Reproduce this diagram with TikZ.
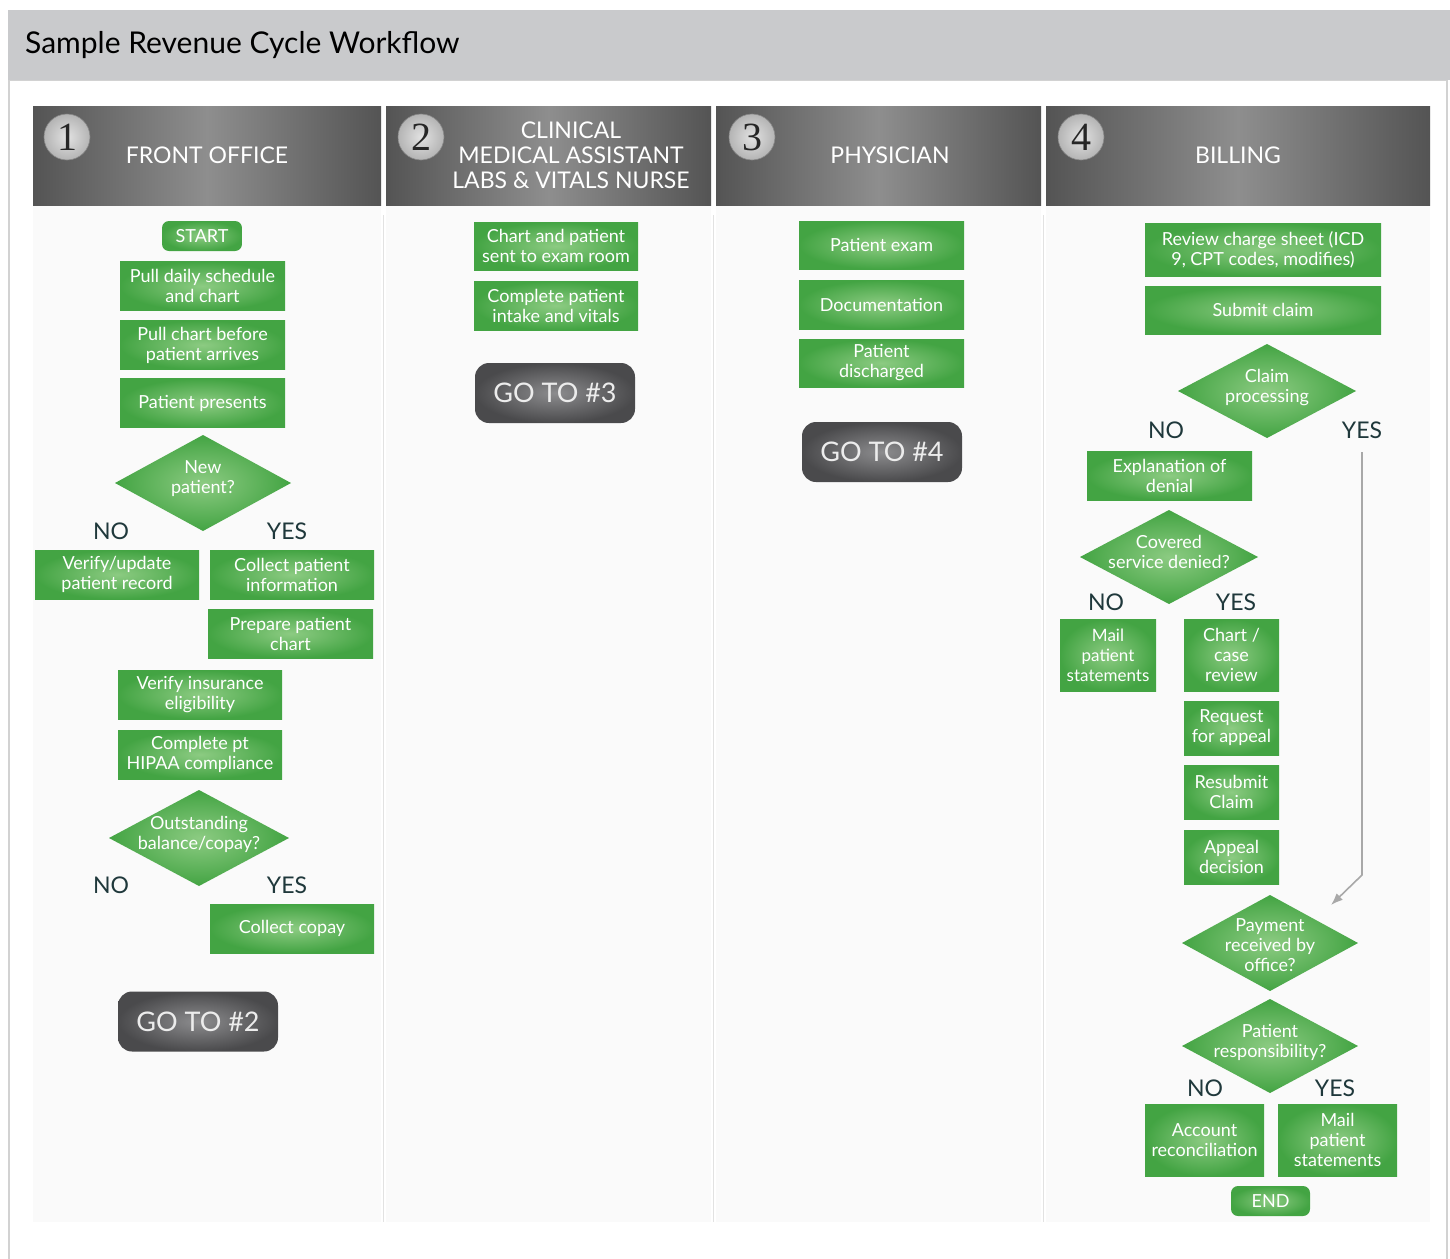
\documentclass[tikz,border=0pt]{standalone}
\usepackage{fontspec}
\setmainfont{Lato}
\newfontfamily\numfont{Liberation Serif}
\usetikzlibrary{arrows.meta}
\definecolor{titlebar}{HTML}{C9CACC}
\definecolor{framec}{HTML}{D2D2D2}
\definecolor{colbg}{HTML}{FAFAFA}
\definecolor{sepc}{HTML}{E2E2E2}
\definecolor{hdrdark}{HTML}{545454}
\definecolor{hdrlight}{HTML}{8E8E8E}
\definecolor{gin}{HTML}{8CCB82}
\definecolor{gout}{HTML}{43A443}
\definecolor{gotoin}{HTML}{8C8C8E}
\definecolor{gotoout}{HTML}{4A4A4C}
\definecolor{gototext}{HTML}{ECECEC}
\definecolor{yn}{HTML}{1F383B}
\definecolor{numin}{HTML}{E2E2E2}
\definecolor{numout}{HTML}{B4B4B4}
\definecolor{arrc}{HTML}{A8A8A8}
\newcommand\gdia[7]{%
  \shade[inner color=gin, outer color=gout] (#2-#4,#3) -- (#2,#3-#5) -- (#2+#4,#3) -- (#2,#3+#5) -- cycle;
  \node[dtext] (#1) at (#2,#3+#6) {#7};}
\begin{document}
\begin{tikzpicture}[x=1pt,y=-1pt,
  gbox/.style={shade, inner color=gin, outer color=gout, text=white, align=center,
    inner sep=0pt, font=\fontsize{18}{20}\selectfont},
  stdbox/.style={gbox, minimum width=165pt, minimum height=49pt},
  termbox/.style={gbox, rounded corners=7pt, minimum width=80pt, minimum height=30pt},
  gotobox/.style={shade, inner color=gotoin, outer color=gotoout, rounded corners=14pt,
    text=gototext, font=\fontsize{27}{27}\selectfont, minimum width=160pt, minimum height=60pt, inner sep=0pt},
  dtext/.style={text=white, align=center, inner sep=0pt, font=\fontsize{18}{20}\selectfont},
  yntext/.style={text=yn, inner sep=0pt, font=\fontsize{23}{23}\selectfont},
  hdrtext/.style={text=white, align=center, inner sep=0pt, font=\fontsize{23}{25}\selectfont},
  numc/.style={circle, shade, inner color=numin, outer color=numout, draw=hdrdark!70, line width=0.6pt,
    minimum size=46pt, inner sep=0pt, text=black!85, font=\numfont\fontsize{40}{40}\selectfont},
  conn/.style={draw=arrc, line width=1.6pt, -{Latex[length=12pt,width=9pt]}}
]
\useasboundingbox (0,0) rectangle (1450,1258);
\fill[white] (0,0) rectangle (1450,1258);
% frame and title bar
\draw[framec, line width=1.2pt, fill=white] (9,80) rectangle (1447,1270);
\fill[titlebar] (8,10) rectangle (1450,80);
\node[anchor=west, inner sep=0pt, font=\fontsize{30}{30}\selectfont, text=black] (title) at (25,45) {Sample Revenue Cycle Workflow};
% column backgrounds
\fill[colbg] (33,205) rectangle (381,1222);
\fill[colbg] (386,205) rectangle (711,1222);
\fill[colbg] (716,205) rectangle (1041,1222);
\fill[colbg] (1046,205) rectangle (1430,1222);
\draw[sepc, line width=1.2pt] (383.5,215) -- (383.5,1222);
\draw[sepc, line width=1.2pt] (713.5,215) -- (713.5,1222);
\draw[sepc, line width=1.2pt] (1043.5,215) -- (1043.5,1222);
% headers
\shade[left color=hdrdark, right color=hdrdark, middle color=hdrlight] (33,106) rectangle (381,205);
\shade[left color=hdrdark, right color=hdrdark, middle color=hdrlight] (386,106) rectangle (711,205);
\shade[left color=hdrdark, right color=hdrdark, middle color=hdrlight] (716,106) rectangle (1041,205);
\shade[left color=hdrdark, right color=hdrdark, middle color=hdrlight] (1046,106) rectangle (1430,205);
\node[numc] (n1) at (67,137) {1};
\node[numc] (n2) at (421,137) {2};
\node[numc] (n3) at (752,137) {3};
\node[numc] (n4) at (1081,137) {4};
\node[hdrtext] (h1) at (207,155) {FRONT OFFICE};
\node[hdrtext] (h2) at (571,155) {CLINICAL\\MEDICAL ASSISTANT\\LABS \& VITALS NURSE};
\node[hdrtext] (h3) at (890,155) {PHYSICIAN};
\node[hdrtext] (h4) at (1238,155) {BILLING};
% column 1
\node[termbox] (start) at (202,236) {START};
\node[stdbox] (pull1) at (202.5,286) {Pull daily schedule\\and chart};
\node[stdbox] (pull2) at (202.5,345) {Pull chart before\\patient arrives};
\node[stdbox] (pres) at (202.5,403) {Patient presents};
\gdia{newp}{203}{483}{88}{48}{-4}{New\\patient?}
\node[yntext] (no1) at (111,531) {NO};
\node[yntext] (yes1) at (287,531) {YES};
\node[stdbox, minimum width=164pt] (verupd) at (117,574.5) {Verify/update\\patient record};
\node[stdbox, minimum width=164pt] (collinfo) at (292,574.5) {Collect patient\\information};
\node[stdbox] (prep) at (290.5,633.5) {Prepare patient\\chart};
\node[stdbox, minimum width=164pt] (verins) at (200,694.5) {Verify insurance\\eligibility};
\node[stdbox, minimum width=164pt] (hipaa) at (200,754.5) {Complete pt\\HIPAA compliance};
\gdia{outst}{199}{838}{90}{48}{-4}{Outstanding\\balance/copay?}
\node[yntext] (no2) at (111,885) {NO};
\node[yntext] (yes2) at (287,885) {YES};
\node[stdbox, minimum width=164pt] (copay) at (292,928.5) {Collect copay};
\node[gotobox] (go2) at (198,1021.5) {GO TO \#2};
% column 2
\node[stdbox, minimum width=164pt, minimum height=48pt] (sent) at (556,246) {Chart and patient\\sent to exam room};
\node[stdbox, minimum width=164pt] (intake) at (556,305.5) {Complete patient\\intake and vitals};
\node[gotobox] (go3) at (555,393) {GO TO \#3};
% column 3
\node[stdbox, minimum height=48pt] (exam) at (881.5,245) {Patient exam};
\node[stdbox] (doc) at (881.5,304.5) {Documentation};
\node[stdbox, minimum height=48pt] (disch) at (881.5,363) {Patient\\discharged};
\node[gotobox] (go4) at (882,452) {GO TO \#4};
% column 4
\node[gbox, minimum width=236pt, minimum height=53pt] (review) at (1263,249.5) {Review charge sheet (ICD\\9, CPT codes, modifies)};
\node[gbox, minimum width=236pt, minimum height=48pt] (submit) at (1263,310) {Submit claim};
\gdia{claim}{1267}{391}{89}{47}{-3}{Claim\\processing}
\node[yntext] (no3) at (1166,430) {NO};
\node[yntext] (yes3) at (1362,430) {YES};
\node[stdbox] (expl) at (1169.5,475.5) {Explanation of\\denial};
\gdia{cov}{1169}{557}{89}{47}{-5}{Covered\\service denied?}
\node[yntext] (no4) at (1106,602) {NO};
\node[yntext] (yes4) at (1236,602) {YES};
\node[gbox, minimum width=96pt, minimum height=72pt, font=\fontsize{17}{20}\selectfont] (mail1) at (1108,655) {Mail\\patient\\statements};
\node[gbox, minimum width=95pt, minimum height=72pt] (chart) at (1231.5,655) {Chart /\\case\\review};
\node[gbox, minimum width=95pt, minimum height=54pt] (req) at (1231.5,728) {Request\\for appeal};
\node[gbox, minimum width=95pt, minimum height=54pt] (resub) at (1231.5,792) {Resubmit\\Claim};
\node[gbox, minimum width=95pt, minimum height=54pt] (appeal) at (1231.5,857) {Appeal\\decision};
\gdia{pay}{1270}{943}{88}{48}{2}{Payment\\received by\\office?}
\gdia{resp}{1270}{1046}{88}{47}{-4}{Patient\\responsibility?}
\node[yntext] (no5) at (1205,1088) {NO};
\node[yntext] (yes5) at (1335,1088) {YES};
\node[gbox, minimum width=119pt, minimum height=72pt] (recon) at (1204.5,1140) {Account\\reconciliation};
\node[gbox, minimum width=119pt, minimum height=72pt] (mail2) at (1337.5,1140) {Mail\\patient\\statements};
\node[termbox, minimum width=79pt] (end) at (1270.5,1201) {END};
% connector
\coordinate (ydown) at (1362,452);
\coordinate (ybend) at (1362,875);
\coordinate (ytip) at (1331,905);
\draw[conn] (ydown) -- (ybend) -- (ytip);
\end{tikzpicture}
\end{document}
